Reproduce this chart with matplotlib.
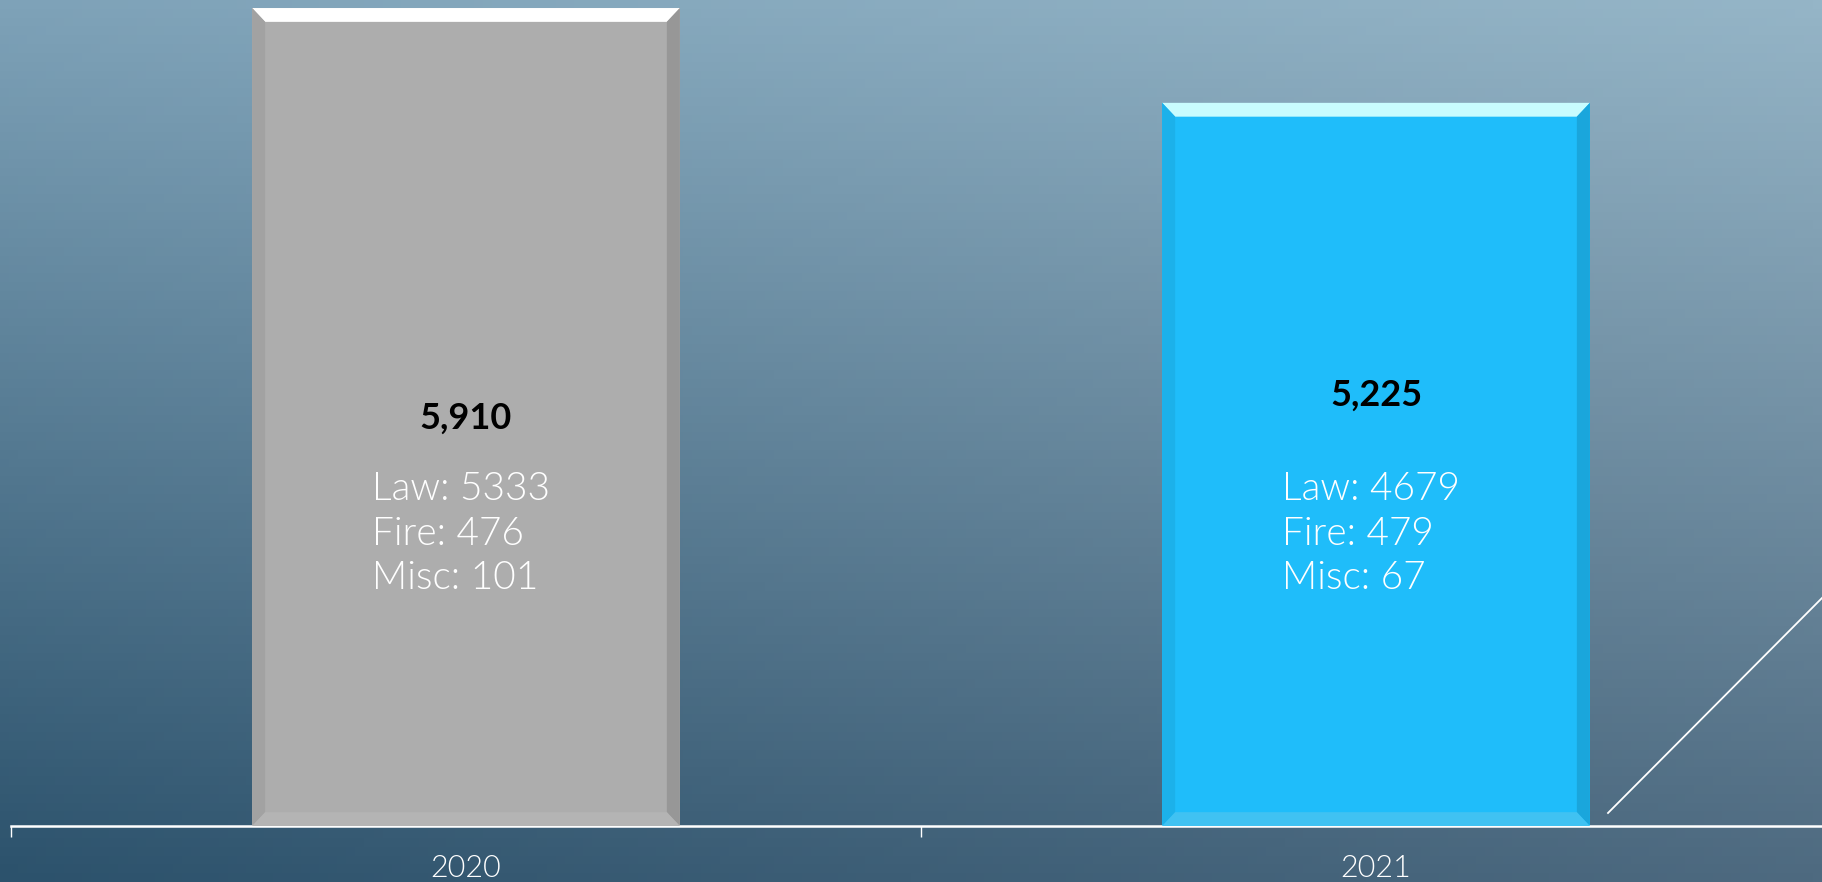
import numpy as np
import matplotlib.pyplot as plt
from matplotlib.patches import Polygon
from matplotlib.lines import Line2D

# data
years = ['2020', '2021']
totals = [5910, 5225]
law = [5333, 4679]
fire = [476, 479]
misc = [101, 67]

# styles per bar
face = ['#adadad', '#1fbdfa']
bevel_top = ['#ffffff', '#c8fcfe']
bevel_left = ['#a2a2a2', '#1cb1ea']
bevel_right = ['#979797', '#1aa6dc']
bevel_bot = ['#b4b4b4', '#40c2f2']
total_y = [2948, 3114]  # vertical spot for the bold totals

W, H = 1822, 882
fig = plt.figure(figsize=(W / 100, H / 100), dpi=100)

# background gradient
bg = fig.add_axes([0, 0, 1, 1], zorder=0)
tl = np.array([126, 162, 184]) / 255
tr = np.array([149, 181, 199]) / 255
bl = np.array([44, 82, 108]) / 255
br = np.array([78, 106, 128]) / 255
xx = np.linspace(0, 1, 200)[None, :, None]
yy = np.linspace(0, 1, 100)[:, None, None]
img = (1 - yy) * ((1 - xx) * tl + xx * tr) + yy * ((1 - xx) * bl + xx * br)
bg.imshow(img, aspect='auto', extent=[0, 1, 0, 1], origin='upper')
bg.axis('off')

# diagonal decoration line
fig.add_artist(Line2D([1608 / W, 1.0], [1 - 813 / H, 1 - 598 / H], color='white', lw=1.3))

ax = fig.add_axes([11 / W, 56 / H, 1820 / W, 826 / H], zorder=1)
ax.set_facecolor('none')
x = np.arange(len(years))
bw = 0.47
bars = ax.bar(x, totals, width=bw, color=face, zorder=2)
ax.set_xlim(-0.5, 1.5)
ax.set_ylim(0, 5968)

# bevels
bx = 0.0143
by = 100
for i, r in enumerate(bars):
    x0, x1 = r.get_x(), r.get_x() + r.get_width()
    top = r.get_height()
    ax.add_patch(Polygon([(x0, top), (x1, top), (x1 - bx, top - by), (x0 + bx, top - by)],
                         color=bevel_top[i], zorder=3, lw=0))
    ax.add_patch(Polygon([(x0, 0), (x0, top), (x0 + bx, top - by), (x0 + bx, by)],
                         color=bevel_left[i], zorder=3, lw=0))
    ax.add_patch(Polygon([(x1, 0), (x1, top), (x1 - bx, top - by), (x1 - bx, by)],
                         color=bevel_right[i], zorder=3, lw=0))
    ax.add_patch(Polygon([(x0, 0), (x1, 0), (x1 - bx, by), (x0 + bx, by)],
                         color=bevel_bot[i], zorder=3, lw=0))

# labels
for i in range(len(years)):
    ax.text(x[i], total_y[i], f'{totals[i]:,}', ha='center', va='center',
            fontsize=26, fontweight='bold', family='Lato', color='black', zorder=4)
    lines = [f'Law: {law[i]}', f'Fire: {fire[i]}', f'Misc: {misc[i]}']
    for j, s in enumerate(lines):
        ax.text(x[i] - 0.103, 2435 - j * 322, s, ha='left', va='center',
                fontsize=28, fontweight=300, family='Lato', color='white', zorder=4)

for s in ['top', 'left', 'right']:
    ax.spines[s].set_visible(False)
ax.spines['bottom'].set_color('white')
ax.spines['bottom'].set_linewidth(1.8)
ax.set_yticks([])
ax.set_xticks(x)
ax.set_xticklabels(years, fontsize=22, family='Lato', fontweight=300, color='white')
ax.tick_params(axis='x', which='major', length=0, pad=20)
ax.set_xticks([-0.5, 0.5, 1.5], minor=True)
ax.tick_params(axis='x', which='minor', length=8, width=1, color='white', direction='out')

fig.savefig('out.png', dpi=100)
